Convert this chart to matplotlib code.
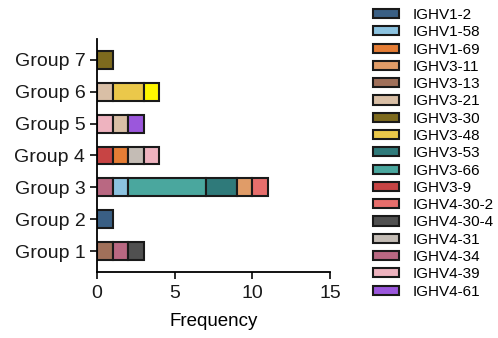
import matplotlib
matplotlib.use("Agg")
import matplotlib.pyplot as plt

plt.rcParams['font.family'] = ['Liberation Sans', 'DejaVu Sans']

groups = ["Group 1", "Group 2", "Group 3", "Group 4", "Group 5", "Group 6", "Group 7"]

# gene segments per group, left to right: (gene, count)
group_segments = [
    [("IGHV3-13", 1), ("IGHV4-34", 1), ("IGHV4-30-4", 1)],
    [("IGHV1-2", 1)],
    [("IGHV4-34", 1), ("IGHV1-58", 1), ("IGHV3-66", 5), ("IGHV3-53", 2),
     ("IGHV3-11", 1), ("IGHV4-30-2", 1)],
    [("IGHV3-9", 1), ("IGHV1-69", 1), ("IGHV4-31", 1), ("IGHV4-39", 1)],
    [("IGHV4-39", 1), ("IGHV3-21", 1), ("IGHV4-61", 1)],
    [("IGHV3-21", 1), ("IGHV3-48", 2), ("other", 1)],
    [("IGHV3-30", 1)],
]

legend_genes = ["IGHV1-2", "IGHV1-58", "IGHV1-69", "IGHV3-11", "IGHV3-13",
                "IGHV3-21", "IGHV3-30", "IGHV3-48", "IGHV3-53", "IGHV3-66",
                "IGHV3-9", "IGHV4-30-2", "IGHV4-30-4", "IGHV4-31", "IGHV4-34",
                "IGHV4-39", "IGHV4-61"]

colors = {
    "IGHV1-2": "#3a5f84", "IGHV1-58": "#8cc3e0", "IGHV1-69": "#e57d35",
    "IGHV3-11": "#e09c68", "IGHV3-13": "#a0705a", "IGHV3-21": "#d9bfa6",
    "IGHV3-30": "#7d6a1e", "IGHV3-48": "#ebc84a", "IGHV3-53": "#2f7a7a",
    "IGHV3-66": "#4aa79e", "IGHV3-9": "#c74444", "IGHV4-30-2": "#e76e6c",
    "IGHV4-30-4": "#505050", "IGHV4-31": "#c4bcb5", "IGHV4-34": "#b96882",
    "IGHV4-39": "#eeb3bf", "IGHV4-61": "#9b57dc", "other": "#fff700",
}

fig = plt.figure(figsize=(4.98, 3.38), dpi=100)
ax = fig.add_axes([0.195, 0.195, 0.468, 0.69])

handles = {}
for i, segs in enumerate(group_segments):
    left = 0
    for gene, n in segs:
        b = ax.barh(i + 1, n, left=left, height=0.56, color=colors[gene],
                    edgecolor="#1a1a1a", linewidth=1.5)
        handles.setdefault(gene, b)
        left += n

ax.set_xlim(0, 15)
ax.set_ylim(0.34, 7.66)
ax.set_xticks([0, 5, 10, 15])
ax.set_yticks(range(1, len(groups) + 1))
ax.set_yticklabels(groups)
ax.tick_params(labelsize=14, width=1.3, length=5, colors="#1a1a1a")
ax.tick_params(axis="x", pad=4)
ax.set_xlabel("Frequency", fontsize=13.5, labelpad=8)
for s in ["top", "right"]:
    ax.spines[s].set_visible(False)
for s in ["left", "bottom"]:
    ax.spines[s].set_linewidth(1.3)

fig.legend([handles[g] for g in legend_genes], legend_genes,
           loc="upper left", bbox_to_anchor=(0.721, 1.017), frameon=False,
           fontsize=11, handlelength=1.7, handleheight=0.55,
           labelspacing=0.215, handletextpad=0.9)

fig.savefig("out.png", dpi=100)
